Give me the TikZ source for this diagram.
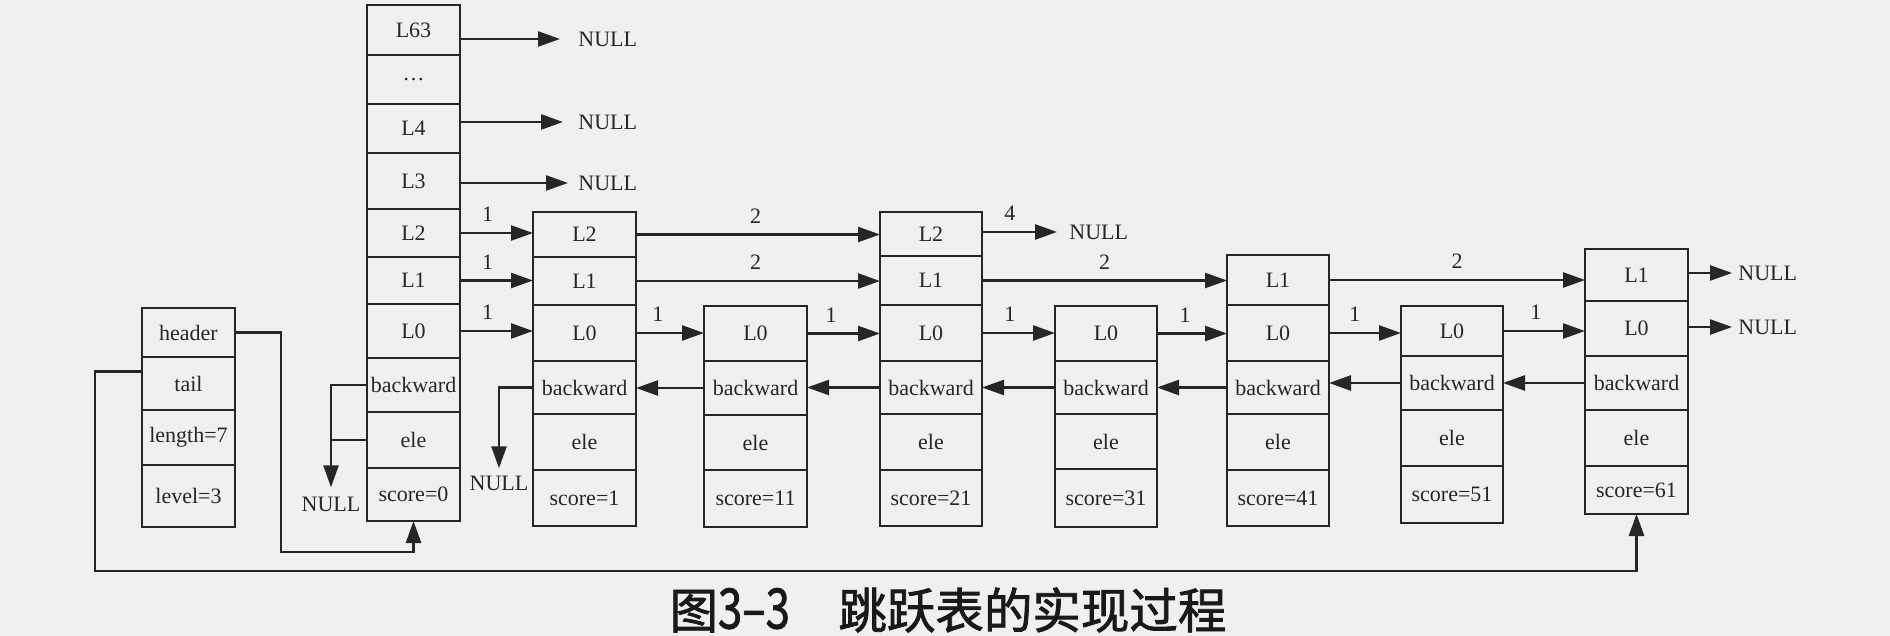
\documentclass[tikz,border=0pt]{standalone}
\usepackage{fontspec}
\usepackage{graphicx}
\setmainfont{Liberation Serif}
\newfontfamily\cjkfont{Noto Sans CJK SC}[FakeBold=1.6]
\usetikzlibrary{arrows.meta}
\definecolor{bg}{HTML}{F0F0F0}
\definecolor{ink}{HTML}{262626}
\newcommand\mkcell[6]{%
  \pgfmathsetlengthmacro\cellW{0.5*(#4-#2)}%
  \pgfmathsetlengthmacro\cellH{0.5*(#5-#3)}%
  \node[cell, minimum width=\cellW, minimum height=\cellH] (#1) at ({(#2+#4)/2},{(#3+#5)/2}) {#6};}
\begin{document}
\begin{tikzpicture}[x=0.5pt,y=-0.5pt,
  cell/.style={draw=ink, line width=1.45pt, inner sep=0pt, outer sep=0pt, text=ink, font=\fontsize{11}{13}\selectfont},
  nulltxt/.style={inner sep=0pt, text=ink, font=\fontsize{11}{13}\selectfont},
  conn/.style={draw=ink, line width=1.25pt, -{Triangle[length=11pt,width=7.5pt]}},
  plainline/.style={draw=ink, line width=1.25pt},
  lbl/.style={anchor=south, inner sep=0pt, yshift=5pt, text=ink, font=\fontsize{11}{13}\selectfont}]
\fill[bg] (0,0) rectangle (1890,636);
\useasboundingbox (0,0) rectangle (1890,636);
% zskiplist struct
\mkcell{Lhdr}{142}{308}{235}{357}{header}
\mkcell{Ltail}{142}{357}{235}{410}{tail}
\mkcell{Llen}{142}{410}{235}{465}{length=7}
\mkcell{Llvl}{142}{465}{235}{527}{level=3}
% header node
\mkcell{H63}{367}{5}{460}{55}{L63}
\mkcell{Hdots}{367}{55}{460}{104}{…}
\mkcell{H4}{367}{104}{460}{153}{L4}
\mkcell{H3}{367}{153}{460}{209}{L3}
\mkcell{H2}{367}{209}{460}{257}{L2}
\mkcell{H1}{367}{257}{460}{304}{L1}
\mkcell{H0}{367}{304}{460}{358}{L0}
\mkcell{Hbw}{367}{358}{460}{412}{backward}
\mkcell{Hele}{367}{412}{460}{468}{ele}
\mkcell{Hsc}{367}{468}{460}{521}{score=0}
% node A
\mkcell{A2}{533}{212}{636}{257}{L2}
\mkcell{A1}{533}{257}{636}{305}{L1}
\mkcell{A0}{533}{305}{636}{361}{L0}
\mkcell{Abw}{533}{361}{636}{414}{backward}
\mkcell{Aele}{533}{414}{636}{470}{ele}
\mkcell{Asc}{533}{470}{636}{526}{score=1}
% node B
\mkcell{B0}{704}{306}{807}{361}{L0}
\mkcell{Bbw}{704}{361}{807}{415}{backward}
\mkcell{Bele}{704}{415}{807}{470}{ele}
\mkcell{Bsc}{704}{470}{807}{527}{score=11}
% node C
\mkcell{C2}{880}{212}{982}{256}{L2}
\mkcell{C1}{880}{256}{982}{305}{L1}
\mkcell{C0}{880}{305}{982}{361}{L0}
\mkcell{Cbw}{880}{361}{982}{414}{backward}
\mkcell{Cele}{880}{414}{982}{470}{ele}
\mkcell{Csc}{880}{470}{982}{526}{score=21}
% node D
\mkcell{D0}{1055}{306}{1157}{361}{L0}
\mkcell{Dbw}{1055}{361}{1157}{414}{backward}
\mkcell{Dele}{1055}{414}{1157}{469}{ele}
\mkcell{Dsc}{1055}{469}{1157}{527}{score=31}
% node E
\mkcell{E1}{1227}{255}{1329}{305}{L1}
\mkcell{E0}{1227}{305}{1329}{361}{L0}
\mkcell{Ebw}{1227}{361}{1329}{414}{backward}
\mkcell{Eele}{1227}{414}{1329}{470}{ele}
\mkcell{Esc}{1227}{470}{1329}{526}{score=41}
% node F
\mkcell{F0}{1401}{306}{1503}{356}{L0}
\mkcell{Fbw}{1401}{356}{1503}{410}{backward}
\mkcell{Fele}{1401}{410}{1503}{466}{ele}
\mkcell{Fsc}{1401}{466}{1503}{523}{score=51}
% node G
\mkcell{G1}{1585}{249}{1688}{301}{L1}
\mkcell{G0}{1585}{301}{1688}{356}{L0}
\mkcell{Gbw}{1585}{356}{1688}{410}{backward}
\mkcell{Gele}{1585}{410}{1688}{466}{ele}
\mkcell{Gsc}{1585}{466}{1688}{514}{score=61}
% NULL texts
\node[nulltxt, anchor=west] (n63) at (578,39) {NULL};
\node[nulltxt, anchor=west] (n4) at (578,122) {NULL};
\node[nulltxt, anchor=west] (n3) at (578,183) {NULL};
\node[nulltxt, anchor=west] (nC) at (1069,232) {NULL};
\node[nulltxt, anchor=west] (nG1) at (1738,273) {NULL};
\node[nulltxt, anchor=west] (nG0) at (1738,327) {NULL};
\node[nulltxt] (nH) at (331,504) {NULL};
\node[nulltxt] (nA) at (499,483) {NULL};
% NULL arrows
\draw[conn, shorten >=9pt] (n63.west -| H63.east) -- (n63.west);
\draw[conn, shorten >=7.5pt] (n4.west -| H4.east) -- (n4.west);
\draw[conn, shorten >=5pt] (n3.west -| H3.east) -- (n3.west);
\draw[conn, shorten >=6pt] (nC.west -| C2.east) -- (nC.west) node[lbl, pos=.32] (w8) {4};
\draw[conn, shorten >=3pt] (nG1.west -| G1.east) -- (nG1.west);
\draw[conn, shorten >=3pt] (nG0.west -| G0.east) -- (nG0.west);
% forward arrows
\draw[conn] (H2.east) -- (H2.east -| A2.west) node[lbl, pos=.38] (w1) {1};
\draw[conn] (H1.east) -- (H1.east -| A1.west) node[lbl, pos=.38] (w2) {1};
\draw[conn] (H0.east) -- (H0.east -| A0.west) node[lbl, pos=.38] (w3) {1};
\draw[conn] (A2.east) -- (A2.east -| C2.west) node[lbl, pos=.49] (w4) {2};
\draw[conn] (A1.east) -- (A1.east -| C1.west) node[lbl, pos=.49] (w5) {2};
\draw[conn] (A0.east) -- (A0.east -| B0.west) node[lbl, pos=.32] (w6) {1};
\draw[conn] (B0.east) -- (B0.east -| C0.west) node[lbl, pos=.33] (w7) {1};
\draw[conn] (C1.east) -- (C1.east -| E1.west) node[lbl, pos=.50] (w9) {2};
\draw[conn] (C0.east) -- (C0.east -| D0.west) node[lbl, pos=.38] (w10) {1};
\draw[conn] (D0.east) -- (D0.east -| E0.west) node[lbl, pos=.40] (w11) {1};
\draw[conn] (E1.east) -- (E1.east -| G1.west) node[lbl, pos=.50] (w12) {2};
\draw[conn] (E0.east) -- (E0.east -| F0.west) node[lbl, pos=.36] (w13) {1};
\draw[conn] (F0.east) -- (F0.east -| G0.west) node[lbl, pos=.40] (w14) {1};
% backward arrows
\draw[conn] (Bbw.west) -- (Bbw.west -| Abw.east);
\draw[conn] (Cbw.west) -- (Cbw.west -| Bbw.east);
\draw[conn] (Dbw.west) -- (Dbw.west -| Cbw.east);
\draw[conn] (Ebw.west) -- (Ebw.west -| Dbw.east);
\draw[conn] (Fbw.west) -- (Fbw.west -| Ebw.east);
\draw[conn] (Gbw.west) -- (Gbw.west -| Fbw.east);
\draw[conn, shorten >=4.5pt] (Hbw.west) -| (nH.north);
\draw[plainline] (Hele.west) -- (Hele.west -| nH.north);
\draw[conn, shorten >=3.5pt] (Abw.west) -| (nA.north);
% header and tail pointers
\coordinate (hb) at (281,552);
\coordinate (tb) at (95,571);
\draw[conn] (Lhdr.east) -| (hb) -| (Hsc.south);
\draw[conn] ([yshift=6pt]Ltail.west) -| (tb) -| (Gsc.south);
% caption
\node[font=\cjkfont\fontsize{24.25}{28}\selectfont, text=black!90, inner sep=0pt] (cap) at (948,610) {图\scalebox{0.9}[1.15]{3–3}　跳跃表的实现过程};
\end{tikzpicture}
\end{document}
